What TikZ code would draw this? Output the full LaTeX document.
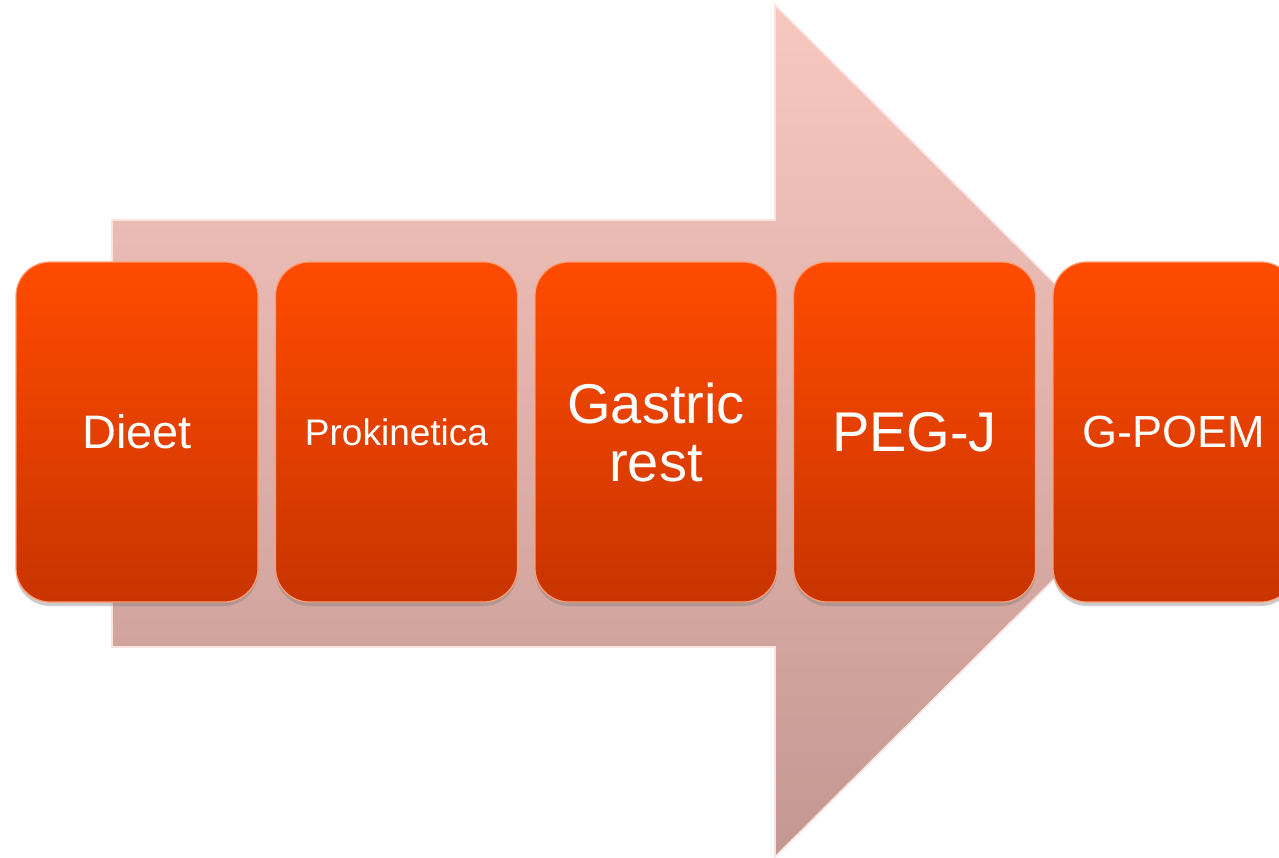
\documentclass[tikz,border=0pt]{standalone}
\usepackage{fontspec}
\setmainfont{Liberation Sans}
\usetikzlibrary{shadows}

\definecolor{boxtop}{RGB}{255,75,0}
\definecolor{boxbot}{RGB}{200,52,0}
\definecolor{arrtop}{RGB}{248,200,192}
\definecolor{arrbot}{RGB}{196,152,146}

\begin{document}
\begin{tikzpicture}[x=0.5pt,y=-0.5pt,
   stepbox/.style={shape=rectangle,rounded corners=17pt,
     minimum width=121pt,minimum height=170pt,inner sep=0pt,
     top color=boxtop,bottom color=boxbot,draw=boxtop!55!white,line width=0.6pt,
     text=white,align=center,
     drop shadow={opacity=0.4,shadow xshift=0pt,shadow yshift=-2pt}}]
   \useasboundingbox (0,0) rectangle (1279,857);
   \clip (0,0) rectangle (1279,857);
   \path[top color=arrtop,bottom color=arrbot,draw=arrtop!50!white,line width=0.8pt]
     (112,220) -- (775,220) -- (775,5) -- (1203,431) -- (775,857) -- (775,647) -- (112,647) -- cycle;
   \path (137,432) node[stepbox,font=\fontsize{23.5}{28}\selectfont] (B1) {Dieet};
   \path (396.5,432) node[stepbox,font=\fontsize{18.5}{22}\selectfont] (B2) {Prokinetica};
   \path (656,432) node[stepbox,font=\fontsize{28}{29}\selectfont] (B3) {Gastric\\rest};
   \path (914.5,432) node[stepbox,font=\fontsize{28}{32}\selectfont] (B4) {PEG-J};
   \path (1174,432) node[stepbox,font=\fontsize{22.5}{27}\selectfont] (B5) {G-POEM};
\end{tikzpicture}
\end{document}
